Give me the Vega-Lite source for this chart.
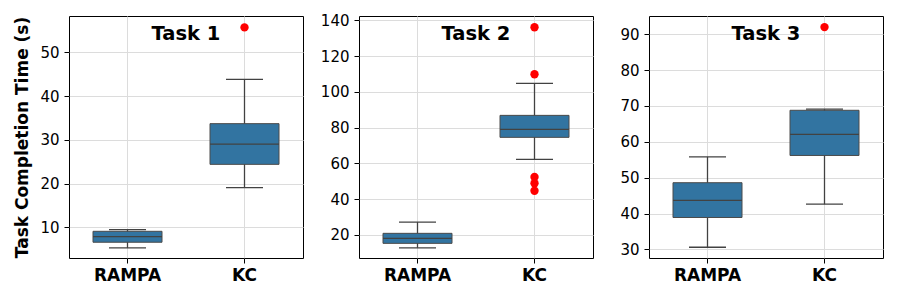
{
  "$schema": "https://vega.github.io/schema/vega-lite/v6.json",
  "background": "white",
  "padding": {"left": 13, "top": 12, "right": 5, "bottom": 5},
  "datasets": {
    "boxes": [
      {"task": "Task 1", "method": "RAMPA", "min": 5.3, "q1": 6.6, "median": 7.9, "q3": 9.1, "max": 9.5},
      {"task": "Task 1", "method": "KC", "min": 19.1, "q1": 24.4, "median": 29.0, "q3": 33.7, "max": 43.8},
      {"task": "Task 2", "method": "RAMPA", "min": 12.7, "q1": 15.2, "median": 18.0, "q3": 20.8, "max": 27.1},
      {"task": "Task 2", "method": "KC", "min": 62.2, "q1": 74.5, "median": 79.0, "q3": 86.8, "max": 104.7},
      {"task": "Task 3", "method": "RAMPA", "min": 30.6, "q1": 38.9, "median": 43.7, "q3": 48.6, "max": 55.8},
      {"task": "Task 3", "method": "KC", "min": 42.6, "q1": 56.2, "median": 62.1, "q3": 68.8, "max": 69.1}
    ],
    "outliers": [
      {"task": "Task 1", "method": "KC", "value": 55.7},
      {"task": "Task 2", "method": "KC", "value": 136.1},
      {"task": "Task 2", "method": "KC", "value": 109.8},
      {"task": "Task 2", "method": "KC", "value": 52.3},
      {"task": "Task 2", "method": "KC", "value": 48.8},
      {"task": "Task 2", "method": "KC", "value": 44.6},
      {"task": "Task 3", "method": "KC", "value": 92.0}
    ],
    "titles": [
      {"task": "Task 1"},
      {"task": "Task 2"},
      {"task": "Task 3"}
    ]
  },
  "bounds": "flush",
  "spacing": 56,
  "hconcat": [
    {
      "width": 234, "height": 242,
      "resolve": {"scale": {"x": "independent"}},
      "layer": [
        {
          "data": {"name": "boxes"},
          "transform": [{"filter": "datum.task === 'Task 1'"}],
          "encoding": {"x": {"field": "method", "type": "nominal", "sort": ["RAMPA", "KC"], "scale": {"domain": ["RAMPA", "KC"], "paddingInner": 0, "paddingOuter": 0}, "axis": {"title": null, "labelAngle": 0, "labelFont": "DejaVu Sans", "labelFontSize": 17, "labelFontWeight": "bold", "labelColor": "black", "tickColor": "black", "tickSize": 5, "labelPadding": 4, "grid": true, "gridColor": "#dcdcdc", "domain": false}}},
          "layer": [
            {"mark": {"type": "rule", "color": "#424242", "strokeWidth": 1.3},
             "encoding": {
               "y": {"field": "min", "type": "quantitative", "scale": {"domain": [3, 58.3], "nice": false, "zero": false}, "axis": {"title": "Task Completion Time (s)", "titleFont": "DejaVu Sans", "titleFontSize": 17, "titleFontWeight": "bold", "titleColor": "black", "titlePadding": 8, "values": [10, 20, 30, 40, 50], "labelFont": "DejaVu Sans", "labelFontSize": 15, "labelColor": "black", "tickColor": "black", "tickSize": 5, "labelPadding": 5, "domain": false, "grid": true, "gridColor": "#dcdcdc"}},
               "y2": {"field": "max"}
             }},
            {"mark": {"type": "bar", "fill": "#3274a1", "stroke": "#4a4a4a", "strokeWidth": 1, "size": 69},
             "encoding": {"y": {"field": "q1", "type": "quantitative"}, "y2": {"field": "q3"}}},
            {"mark": {"type": "tick", "color": "#424242", "size": 69, "thickness": 1.3, "opacity": 1},
             "encoding": {"y": {"field": "median", "type": "quantitative"}}},
            {"mark": {"type": "tick", "color": "#424242", "size": 37, "thickness": 1.3, "opacity": 1},
             "encoding": {"y": {"field": "min", "type": "quantitative"}}},
            {"mark": {"type": "tick", "color": "#424242", "size": 37, "thickness": 1.3, "opacity": 1},
             "encoding": {"y": {"field": "max", "type": "quantitative"}}},
            {"data": {"name": "outliers"}, "transform": [{"filter": "datum.task === 'Task 1'"}],
             "mark": {"type": "point", "filled": true, "color": "#ff0000", "size": 70, "opacity": 1},
             "encoding": {"y": {"field": "value", "type": "quantitative"}}}
          ]
        },
        {"data": {"name": "titles"}, "transform": [{"filter": "datum.task === 'Task 1'"}],
         "mark": {"type": "text", "font": "DejaVu Sans", "fontSize": 19.5, "fontWeight": "bold", "color": "black", "align": "center", "baseline": "alphabetic"},
         "encoding": {"text": {"field": "task"}, "x": {"datum": 0.5, "type": "quantitative", "scale": {"domain": [0, 1]}, "axis": null}, "y": {"datum": 52.8, "type": "quantitative"}}}
      ]
    },
    {
      "width": 234, "height": 242,
      "resolve": {"scale": {"x": "independent"}},
      "layer": [
        {
          "data": {"name": "boxes"},
          "transform": [{"filter": "datum.task === 'Task 2'"}],
          "encoding": {"x": {"field": "method", "type": "nominal", "sort": ["RAMPA", "KC"], "scale": {"domain": ["RAMPA", "KC"], "paddingInner": 0, "paddingOuter": 0}, "axis": {"title": null, "labelAngle": 0, "labelFont": "DejaVu Sans", "labelFontSize": 17, "labelFontWeight": "bold", "labelColor": "black", "tickColor": "black", "tickSize": 5, "labelPadding": 4, "grid": true, "gridColor": "#dcdcdc", "domain": false}}},
          "layer": [
            {"mark": {"type": "rule", "color": "#424242", "strokeWidth": 1.3},
             "encoding": {
               "y": {"field": "min", "type": "quantitative", "scale": {"domain": [7, 142.4], "nice": false, "zero": false}, "axis": {"title": null, "values": [20, 40, 60, 80, 100, 120, 140], "labelFont": "DejaVu Sans", "labelFontSize": 15, "labelColor": "black", "tickColor": "black", "tickSize": 5, "labelPadding": 5, "domain": false, "grid": true, "gridColor": "#dcdcdc"}},
               "y2": {"field": "max"}
             }},
            {"mark": {"type": "bar", "fill": "#3274a1", "stroke": "#4a4a4a", "strokeWidth": 1, "size": 69},
             "encoding": {"y": {"field": "q1", "type": "quantitative"}, "y2": {"field": "q3"}}},
            {"mark": {"type": "tick", "color": "#424242", "size": 69, "thickness": 1.3, "opacity": 1},
             "encoding": {"y": {"field": "median", "type": "quantitative"}}},
            {"mark": {"type": "tick", "color": "#424242", "size": 37, "thickness": 1.3, "opacity": 1},
             "encoding": {"y": {"field": "min", "type": "quantitative"}}},
            {"mark": {"type": "tick", "color": "#424242", "size": 37, "thickness": 1.3, "opacity": 1},
             "encoding": {"y": {"field": "max", "type": "quantitative"}}},
            {"data": {"name": "outliers"}, "transform": [{"filter": "datum.task === 'Task 2'"}],
             "mark": {"type": "point", "filled": true, "color": "#ff0000", "size": 70, "opacity": 1},
             "encoding": {"y": {"field": "value", "type": "quantitative"}}}
          ]
        },
        {"data": {"name": "titles"}, "transform": [{"filter": "datum.task === 'Task 2'"}],
         "mark": {"type": "text", "font": "DejaVu Sans", "fontSize": 19.5, "fontWeight": "bold", "color": "black", "align": "center", "baseline": "alphabetic"},
         "encoding": {"text": {"field": "task"}, "x": {"datum": 0.5, "type": "quantitative", "scale": {"domain": [0, 1]}, "axis": null}, "y": {"datum": 129.0, "type": "quantitative"}}}
      ]
    },
    {
      "width": 234, "height": 242,
      "resolve": {"scale": {"x": "independent"}},
      "layer": [
        {
          "data": {"name": "boxes"},
          "transform": [{"filter": "datum.task === 'Task 3'"}],
          "encoding": {"x": {"field": "method", "type": "nominal", "sort": ["RAMPA", "KC"], "scale": {"domain": ["RAMPA", "KC"], "paddingInner": 0, "paddingOuter": 0}, "axis": {"title": null, "labelAngle": 0, "labelFont": "DejaVu Sans", "labelFontSize": 17, "labelFontWeight": "bold", "labelColor": "black", "tickColor": "black", "tickSize": 5, "labelPadding": 4, "grid": true, "gridColor": "#dcdcdc", "domain": false}}},
          "layer": [
            {"mark": {"type": "rule", "color": "#424242", "strokeWidth": 1.3},
             "encoding": {
               "y": {"field": "min", "type": "quantitative", "scale": {"domain": [27.6, 95.1], "nice": false, "zero": false}, "axis": {"title": null, "values": [30, 40, 50, 60, 70, 80, 90], "labelFont": "DejaVu Sans", "labelFontSize": 15, "labelColor": "black", "tickColor": "black", "tickSize": 5, "labelPadding": 5, "domain": false, "grid": true, "gridColor": "#dcdcdc"}},
               "y2": {"field": "max"}
             }},
            {"mark": {"type": "bar", "fill": "#3274a1", "stroke": "#4a4a4a", "strokeWidth": 1, "size": 69},
             "encoding": {"y": {"field": "q1", "type": "quantitative"}, "y2": {"field": "q3"}}},
            {"mark": {"type": "tick", "color": "#424242", "size": 69, "thickness": 1.3, "opacity": 1},
             "encoding": {"y": {"field": "median", "type": "quantitative"}}},
            {"mark": {"type": "tick", "color": "#424242", "size": 37, "thickness": 1.3, "opacity": 1},
             "encoding": {"y": {"field": "min", "type": "quantitative"}}},
            {"mark": {"type": "tick", "color": "#424242", "size": 37, "thickness": 1.3, "opacity": 1},
             "encoding": {"y": {"field": "max", "type": "quantitative"}}},
            {"data": {"name": "outliers"}, "transform": [{"filter": "datum.task === 'Task 3'"}],
             "mark": {"type": "point", "filled": true, "color": "#ff0000", "size": 70, "opacity": 1},
             "encoding": {"y": {"field": "value", "type": "quantitative"}}}
          ]
        },
        {"data": {"name": "titles"}, "transform": [{"filter": "datum.task === 'Task 3'"}],
         "mark": {"type": "text", "font": "DejaVu Sans", "fontSize": 19.5, "fontWeight": "bold", "color": "black", "align": "center", "baseline": "alphabetic"},
         "encoding": {"text": {"field": "task"}, "x": {"datum": 0.5, "type": "quantitative", "scale": {"domain": [0, 1]}, "axis": null}, "y": {"datum": 88.4, "type": "quantitative"}}}
      ]
    }
  ],
  "config": {
    "view": {"stroke": "black", "strokeWidth": 1},
    "font": "DejaVu Sans"
  }
}
